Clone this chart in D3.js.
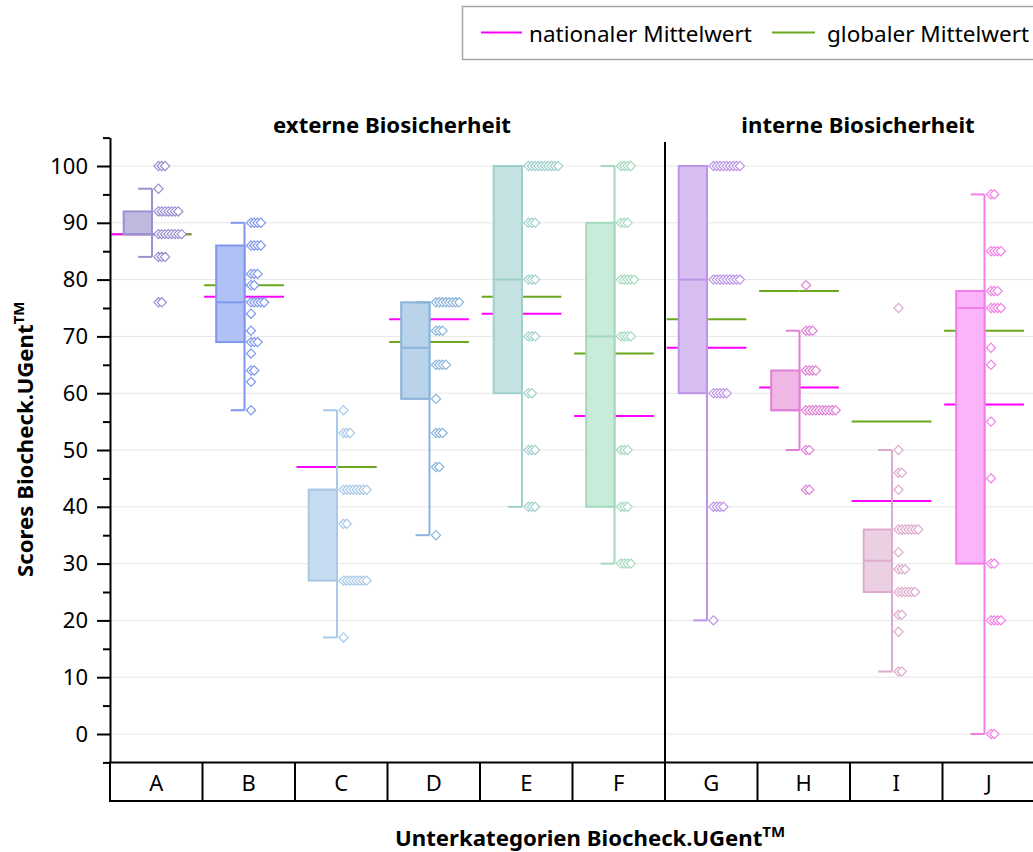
<!DOCTYPE html>
<html>
<head>
<meta charset="utf-8">
<script src="https://cdn.jsdelivr.net/npm/d3@7"></script>
<style>
  html, body { margin: 0; padding: 0; background: #fff; }
  svg { display: block; font-family: "Noto Sans", "DejaVu Sans", sans-serif; }
</style>
</head>
<body>
<svg id="chart" width="1033" height="852"></svg>
<script>
// ---- data ----
const categories = ["A", "B", "C", "D", "E", "F", "G", "H", "I", "J"];
const panelTitles = ["externe Biosicherheit", "interne Biosicherheit"];
const panelOf = [0, 0, 0, 0, 0, 0, 1, 1, 1, 1];

const whiskerLow  = [84, 57, 17, 35, 40, 30, 20, 50, 11, 0];
const quartile1   = [88, 69, 27, 59, 60, 40, 60, 57, 25, 30];
const medianValue = [88, 76, 43, 68, 80, 70, 80, 57, 30.5, 75];
const quartile3   = [92, 86, 43, 76, 100, 90, 100, 64, 36, 78];
const whiskerHigh = [96, 90, 57, 76, 100, 100, 100, 71, 50, 95];

const nationalMean = [88, 77, 47, 73, 74, 56, 68, 61, 41, 58];
const globalMean   = [88, 79, 47, 69, 77, 67, 73, 78, 55, 71];

const scoresA = [100, 100, 100, 96, 92, 92, 92, 92, 92, 92, 92, 88, 88, 88, 88, 88, 88, 88, 88, 84, 84, 84, 76, 76];
const scoresB = [90, 90, 90, 90, 86, 86, 86, 86, 81, 81, 81, 79, 79, 76, 76, 76, 76, 76, 74, 71, 69, 69, 69, 67, 64, 64, 62, 57];
const scoresC = [57, 53, 53, 53, 43, 43, 43, 43, 43, 43, 43, 43, 37, 37, 27, 27, 27, 27, 27, 27, 27, 27, 17];
const scoresD = [76, 76, 76, 76, 76, 76, 76, 76, 71, 71, 71, 65, 65, 65, 65, 59, 53, 53, 53, 47, 47, 35];
const scoresE = [100, 100, 100, 100, 100, 100, 100, 100, 100, 100, 90, 90, 90, 80, 80, 80, 70, 70, 70, 60, 60, 50, 50, 50, 40, 40, 40];
const scoresF = [100, 100, 100, 100, 90, 90, 90, 80, 80, 80, 80, 80, 70, 70, 70, 70, 50, 50, 50, 40, 40, 40, 30, 30, 30, 30];
const scoresG = [100, 100, 100, 100, 100, 100, 100, 100, 100, 80, 80, 80, 80, 80, 80, 80, 80, 80, 60, 60, 60, 60, 60, 40, 40, 40, 40, 20];
const scoresH = [79, 71, 71, 71, 64, 64, 64, 64, 57, 57, 57, 57, 57, 57, 57, 57, 57, 57, 50, 50, 43, 43];
const scoresI = [75, 50, 46, 46, 43, 36, 36, 36, 36, 36, 36, 36, 32, 29, 29, 29, 25, 25, 25, 25, 25, 25, 21, 21, 18, 11, 11];
const scoresJ = [95, 95, 85, 85, 85, 85, 78, 78, 78, 75, 75, 75, 75, 68, 65, 55, 45, 30, 30, 20, 20, 20, 20, 0, 0];
const scores = [scoresA, scoresB, scoresC, scoresD, scoresE, scoresF, scoresG, scoresH, scoresI, scoresJ];

const yMajorTicks = [0, 10, 20, 30, 40, 50, 60, 70, 80, 90, 100];
const yMinorTicks = [-5, 5, 15, 25, 35, 45, 55, 65, 75, 85, 95, 105];

const legendLabels = ["nationaler Mittelwert", "globaler Mittelwert"];

// ---- styles ----
const boxFill   = ["#bfb9e0", "#b1c0f5", "#c6dcf1", "#b9d3ea", "#c5e2e2", "#c9ebda", "#d6bff0", "#efb6e6", "#ebd0e4", "#fbb4f9"];
const boxStroke = ["#9a90d2", "#7f97ee", "#a9c9e8", "#8ab4dc", "#a0d0cc", "#a4d9bf", "#bc95e8", "#e081d6", "#dcabcd", "#f47ee9"];
const nationalColor = "#ff00ff";
const globalColor = "#6aa81e";

// ---- layout ----
const svg = d3.select("#chart");
const plotLeft = 110, plotRight = 1035;
const axisBottom = 762.4, tableBottom = 801;

const x = d3.scaleBand().domain(categories).range([plotLeft, plotRight]).padding(0);
const y = d3.scaleLinear().domain([-5, 105]).range([axisBottom, 137.6]);
const bw = x.bandwidth();

// horizontal grid
svg.append("g")
  .selectAll("line")
  .data(yMajorTicks)
  .join("line")
  .attr("x1", plotLeft).attr("x2", plotRight)
  .attr("y1", d => y(d)).attr("y2", d => y(d))
  .attr("stroke", "#e6e6e6").attr("stroke-width", 1);

const rows = categories.map((c, i) => ({
  cat: c, i,
  lo: whiskerLow[i], q1: quartile1[i], med: medianValue[i], q3: quartile3[i], hi: whiskerHigh[i],
  nat: nationalMean[i], glo: globalMean[i], pts: scores[i]
}));

const boxL = d => x(d.cat) + bw * 0.148;
const whiskerX = d => x(d.cat) + bw * 0.454;
const lineL = d => x(d.cat) + bw * 0.018;
const lineR = d => x(d.cat) + bw * 0.88;

// mean lines, split at the whisker: national on top on the left, global on top on the right
const means = svg.append("g");
rows.forEach(d => {
  const segs = [
    { x1: lineL(d), x2: whiskerX(d), v: d.glo, c: globalColor },
    { x1: lineL(d), x2: whiskerX(d), v: d.nat, c: nationalColor },
    { x1: whiskerX(d), x2: lineR(d), v: d.nat, c: nationalColor },
    { x1: whiskerX(d), x2: lineR(d), v: d.glo, c: globalColor }
  ];
  means.selectAll(null).data(segs).join("line")
    .attr("x1", s => s.x1).attr("x2", s => s.x2)
    .attr("y1", s => y(s.v)).attr("y2", s => y(s.v))
    .attr("stroke", s => s.c).attr("stroke-width", 2);
});

// boxes
const boxes = svg.append("g").selectAll("g").data(rows).join("g");

boxes.append("line")
  .attr("x1", whiskerX).attr("x2", whiskerX)
  .attr("y1", d => y(d.hi)).attr("y2", d => y(d.lo))
  .attr("stroke", d => boxStroke[d.i]).attr("stroke-width", 2);

boxes.append("rect")
  .attr("x", boxL)
  .attr("width", d => whiskerX(d) - boxL(d))
  .attr("y", d => y(d.q3))
  .attr("height", d => y(d.q1) - y(d.q3))
  .attr("fill", d => boxFill[d.i])
  .attr("stroke", d => boxStroke[d.i]).attr("stroke-width", 2);

boxes.append("line")
  .attr("x1", boxL).attr("x2", whiskerX)
  .attr("y1", d => y(d.med)).attr("y2", d => y(d.med))
  .attr("stroke", d => boxStroke[d.i]).attr("stroke-width", 2);

// whisker caps
boxes.selectAll("line.cap")
  .data(d => [d.lo, d.hi].map(v => ({ v, d })))
  .join("line").attr("class", "cap")
  .attr("x1", o => whiskerX(o.d) - bw * 0.15).attr("x2", o => whiskerX(o.d))
  .attr("y1", o => y(o.v)).attr("y2", o => y(o.v))
  .attr("stroke", o => boxStroke[o.d.i]).attr("stroke-width", 2);

// data points: equal scores are stacked side by side right of the whisker
const diamond = d3.symbol().type(d3.symbolDiamond2).size(54);
boxes.each(function (d) {
  const seen = new Map();
  const pts = d.pts.map(v => {
    const k = seen.get(v) || 0;
    seen.set(v, k + 1);
    return { v, k };
  });
  d3.select(this).selectAll("path.pt")
    .data(pts)
    .join("path").attr("class", "pt")
    .attr("d", diamond)
    .attr("transform", p => `translate(${whiskerX(d) + 6.5 + p.k * 3.3},${y(p.v)})`)
    .attr("fill", "#fff")
    .attr("stroke", boxStroke[d.i]).attr("stroke-width", 1.2);
});

// y axis
const yAxis = svg.append("g").attr("transform", `translate(${plotLeft},0)`);
yAxis.call(d3.axisLeft(y).tickValues(yMinorTicks).tickSize(7).tickSizeOuter(0).tickFormat(""));
yAxis.call(g => g.selectAll(".tick line").attr("stroke-width", 2));
const yAxisMajor = svg.append("g").attr("transform", `translate(${plotLeft},0)`)
  .call(d3.axisLeft(y).tickValues(yMajorTicks).tickSize(13).tickPadding(9).tickSizeOuter(0));
yAxisMajor.select(".domain").remove();
yAxis.select(".domain").attr("stroke-width", 2);
yAxisMajor.selectAll(".tick line").attr("stroke-width", 2);
yAxisMajor.selectAll(".tick text")
  .attr("font-size", 22).attr("fill", "#000")
  .attr("font-family", "'Noto Sans', sans-serif");

// category table under the plot
const table = svg.append("g");
table.append("line")
  .attr("x1", plotLeft - 1).attr("x2", plotRight)
  .attr("y1", axisBottom).attr("y2", axisBottom)
  .attr("stroke", "#000").attr("stroke-width", 2);
table.append("line")
  .attr("x1", plotLeft - 1).attr("x2", plotRight)
  .attr("y1", tableBottom).attr("y2", tableBottom)
  .attr("stroke", "#000").attr("stroke-width", 2);
table.selectAll("line.div")
  .data(categories)
  .join("line").attr("class", "div")
  .attr("x1", d => x(d)).attr("x2", d => x(d))
  .attr("y1", axisBottom).attr("y2", tableBottom)
  .attr("stroke", "#000").attr("stroke-width", 2);
table.selectAll("text")
  .data(categories)
  .join("text")
  .attr("x", d => x(d) + bw / 2)
  .attr("y", 791)
  .attr("text-anchor", "middle")
  .attr("font-size", 22)
  .text(d => d);

// panel separator
const firstIntern = categories[panelOf.indexOf(1)];
svg.append("line")
  .attr("x1", x(firstIntern)).attr("x2", x(firstIntern))
  .attr("y1", 142).attr("y2", tableBottom)
  .attr("stroke", "#000").attr("stroke-width", 2);

// panel titles
const titleX = [392, 858];
svg.selectAll("text.panel")
  .data(panelTitles)
  .join("text").attr("class", "panel")
  .attr("x", (d, i) => titleX[i])
  .attr("y", 133)
  .attr("text-anchor", "middle")
  .attr("font-size", 22.2).attr("font-weight", "bold")
  .text(d => d);

// axis titles
const yTitle = svg.append("text")
  .attr("transform", "translate(33,577) rotate(-90)")
  .attr("text-anchor", "start")
  .attr("font-size", 22.2).attr("font-weight", "bold");
yTitle.append("tspan").text("Scores Biocheck.UGent");
yTitle.append("tspan").attr("font-size", 15).attr("dy", -9).text("TM");

const xTitle = svg.append("text")
  .attr("x", 395).attr("y", 846)
  .attr("text-anchor", "start")
  .attr("font-size", 22.2).attr("font-weight", "bold");
xTitle.append("tspan").text("Unterkategorien Biocheck.UGent");
xTitle.append("tspan").attr("font-size", 15).attr("dy", -9).text("TM");

// legend
const legend = svg.append("g");
legend.append("rect")
  .attr("x", 462.5).attr("y", 6.5).attr("width", 600).attr("height", 53)
  .attr("fill", "#fff").attr("stroke", "#a6a6a6").attr("stroke-width", 1.5);
const legendItems = [
  { label: legendLabels[0], color: nationalColor, x1: 481, x2: 522, tx: 529 },
  { label: legendLabels[1], color: globalColor, x1: 772, x2: 815, tx: 827 }
];
legendItems.forEach(it => {
  legend.append("line")
    .attr("x1", it.x1).attr("x2", it.x2).attr("y1", 32.5).attr("y2", 32.5)
    .attr("stroke", it.color).attr("stroke-width", 2);
  legend.append("text")
    .attr("x", it.tx).attr("y", 42)
    .attr("font-size", 22.5)
    .text(it.label);
});
</script>
</body>
</html>
